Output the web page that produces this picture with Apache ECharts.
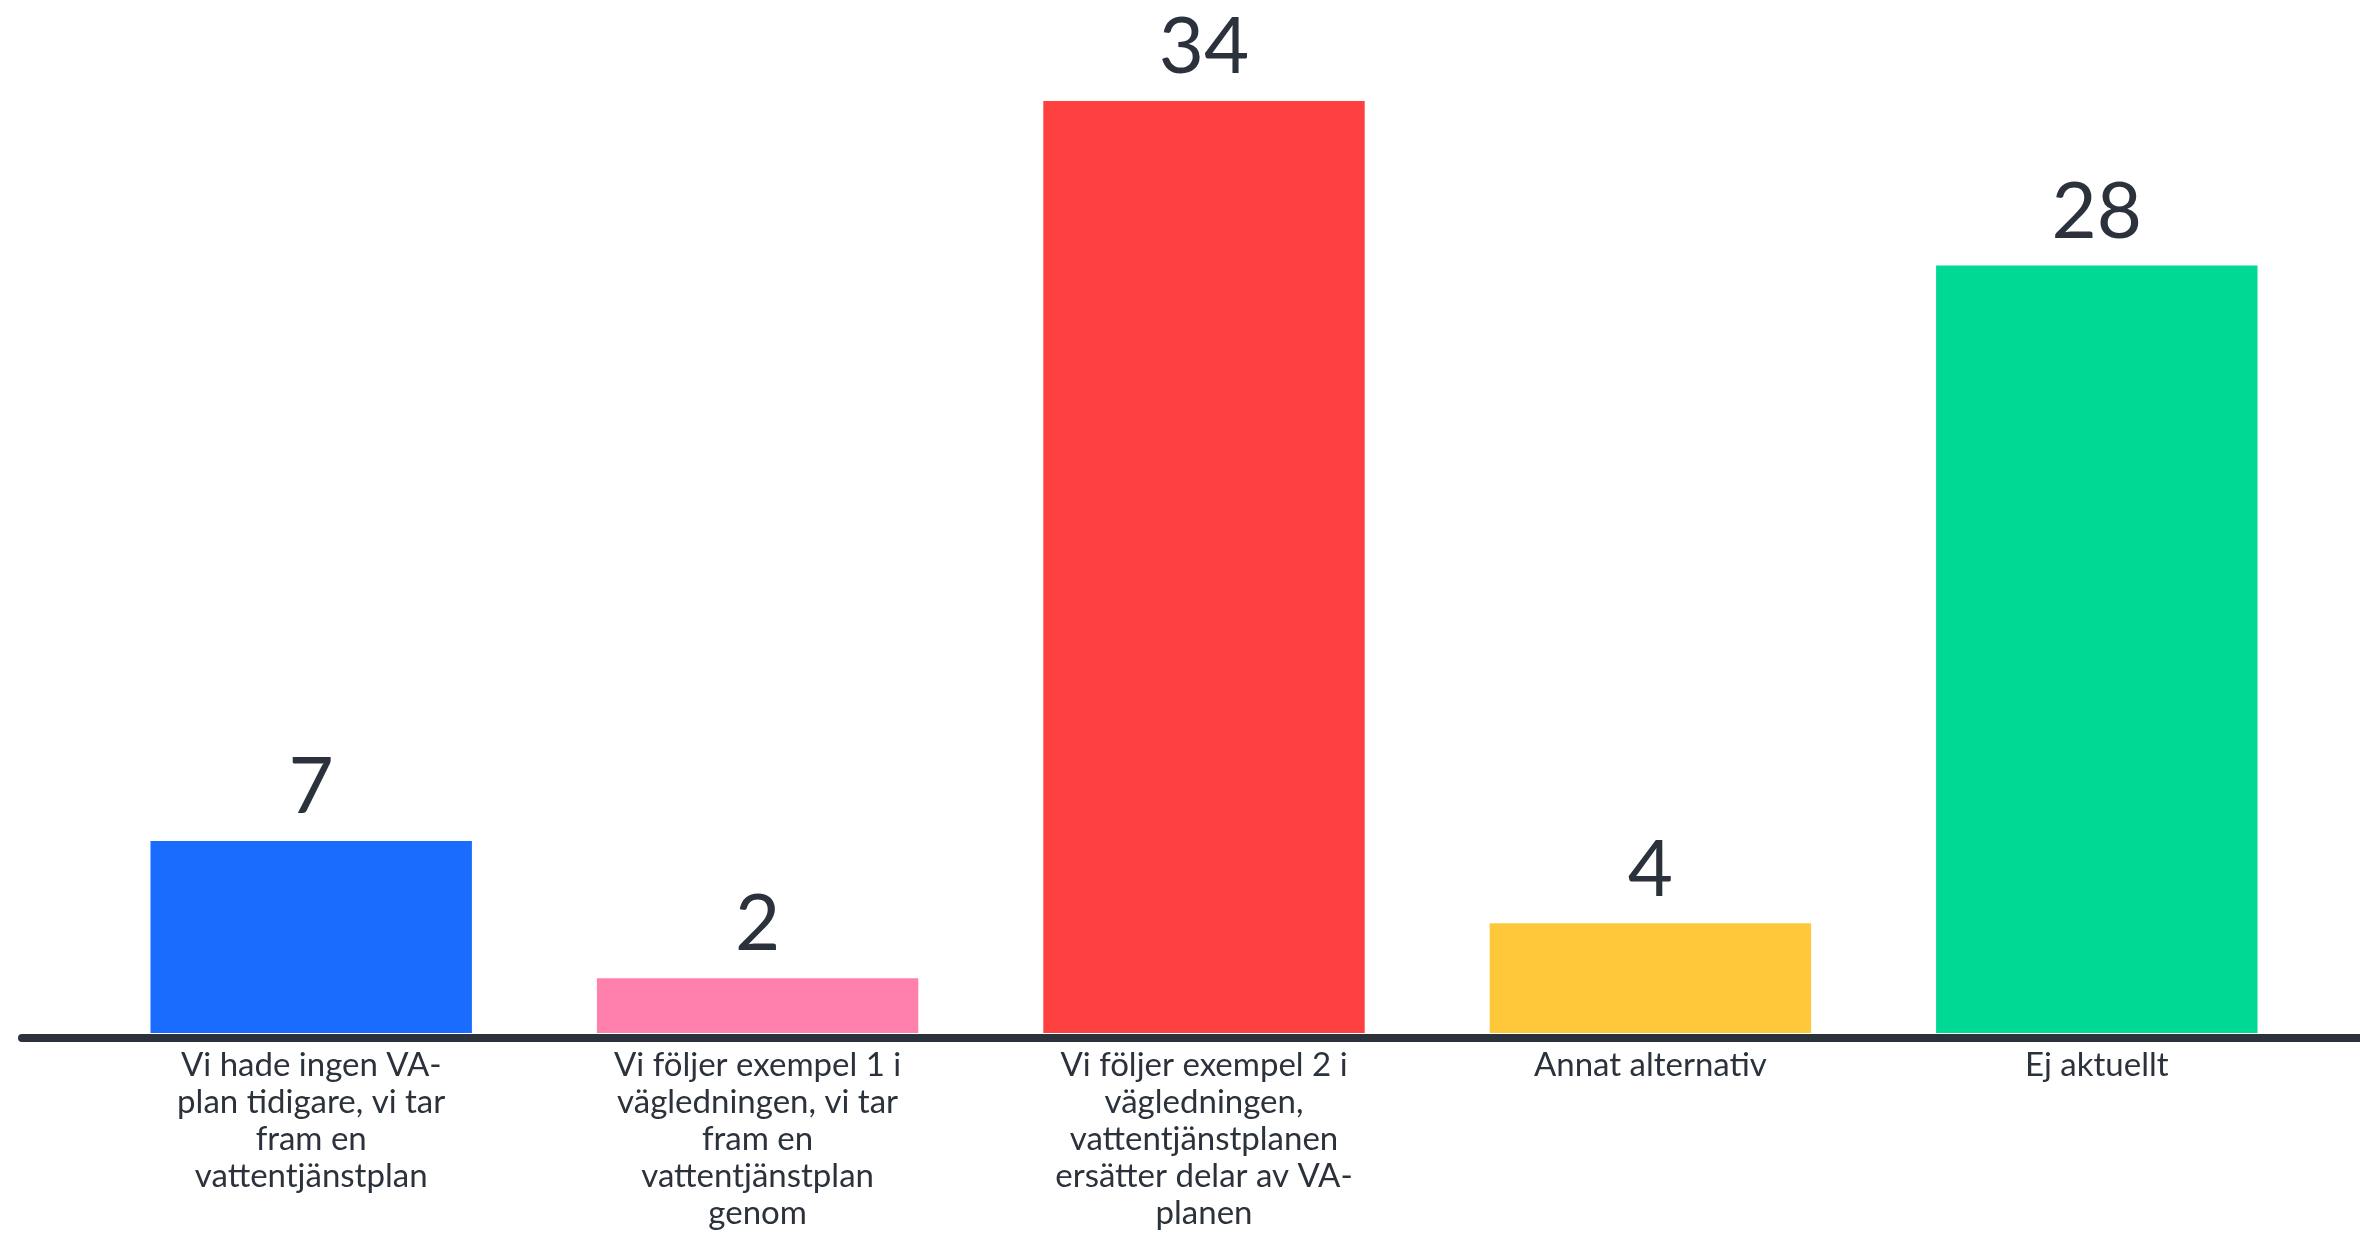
<!DOCTYPE html>
<html>
<head>
<meta charset="utf-8">
<script src="https://cdn.jsdelivr.net/npm/echarts@6/dist/echarts.min.js"></script>
<style>
html,body{margin:0;padding:0;background:#fff;}
#chart{width:2360px;height:1236px;}
</style>
</head>
<body>
<div id="chart"></div>
<script>
const categories = [
  "Vi hade ingen VA-\nplan tidigare, vi tar\nfram en\nvattentjänstplan",
  "Vi följer exempel 1 i\nvägledningen, vi tar\nfram en\nvattentjänstplan\ngenom",
  "Vi följer exempel 2 i\nvägledningen,\nvattentjänstplanen\nersätter delar av VA-\nplanen",
  "Annat alternativ",
  "Ej aktuellt"
];
const values = [7, 2, 34, 4, 28];
const barColors = ["#1a6cff", "#ff80ac", "#ff4040", "#ffc73a", "#00d993"];

const chart = echarts.init(document.getElementById('chart'), null, {renderer: 'canvas'});
chart.setOption({
  animation: false,
  backgroundColor: '#ffffff',
  grid: [
    {left: 88, right: 40, top: 101, bottom: 203},
    {left: 22, right: 0, top: 101, bottom: 198}
  ],
  xAxis: [
    {
      type: 'category', gridIndex: 0, data: categories,
      axisLine: {show: false}, axisTick: {show: false},
      axisLabel: {
        interval: 0, margin: 14, color: '#2b323c',
        fontFamily: 'Lato', fontSize: 33, lineHeight: 37, align: 'center'
      }
    },
    {
      type: 'value', gridIndex: 1, min: 0, max: 1,
      axisLine: {show: true, onZero: false, lineStyle: {color: '#2b323c', width: 8}},
      axisTick: {show: false}, axisLabel: {show: false}, splitLine: {show: false}
    }
  ],
  yAxis: [
    {type: 'value', gridIndex: 0, min: 0, max: 34, show: false, splitLine: {show: false}},
    {type: 'value', gridIndex: 1, min: 0, max: 1, show: false, splitLine: {show: false}}
  ],
  series: [{
    type: 'bar', xAxisIndex: 0, yAxisIndex: 0,
    data: values.map((v, i) => ({value: v, itemStyle: {color: barColors[i]}})),
    barCategoryGap: '28%',
    label: {
      show: true, position: 'top', distance: 14,
      color: '#2b323c', fontFamily: 'Lato', fontSize: 78
    }
  }]
});
</script>
</body>
</html>
